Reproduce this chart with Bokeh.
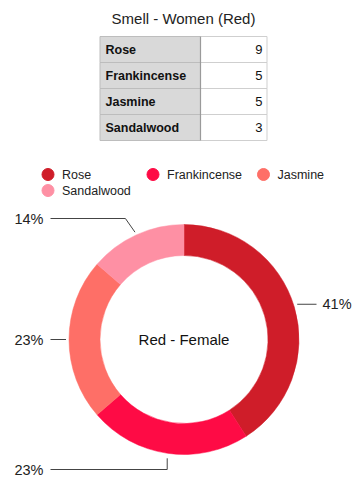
import math
from bokeh.plotting import figure
from bokeh.models import Range1d, ColumnDataSource
from bokeh.core.properties import value
from bokeh.embed import file_html
from bokeh.resources import INLINE

# ---- data ----
title = "Smell - Women (Red)"
center_label = "Red - Female"
categories = ["Rose", "Frankincense", "Jasmine", "Sandalwood"]
counts = [9, 5, 5, 3]
colors = ["#cf1d29", "#fe0b45", "#fe6f67", "#fe90a4"]

FONT = value("Liberation Sans")

W, H = 357, 479
p = figure(width=W, height=H, output_backend="svg", toolbar_location=None,
           x_range=Range1d(0, W), y_range=Range1d(-H, 0),
           min_border=0)
p.axis.visible = False
p.grid.visible = False
p.outline_line_color = None
p.background_fill_color = "white"
p.border_fill_color = "white"

def Y(y):
    return -y

# ---- title ----
p.text(x=[183], y=[Y(18)], text=[title], text_font=FONT, text_font_size="15px",
       text_align="center", text_baseline="middle", text_color="#222222")

# ---- table ----
tx0, tx1, tx2 = 99.5, 200, 266.5
ty0, rh = 36, 26
n = len(categories)
tops = [Y(ty0 + i * rh) for i in range(n)]
bots = [Y(ty0 + (i + 1) * rh) for i in range(n)]
p.quad(left=[tx0] * n, right=[tx1] * n, top=tops, bottom=bots,
       fill_color="#d9d9d9", line_color="#bdbdbd", line_width=1)
p.quad(left=[tx1] * n, right=[tx2] * n, top=tops, bottom=bots,
       fill_color="white", line_color="#cfcfcf", line_width=1)
p.segment(x0=[tx1], y0=[Y(ty0)], x1=[tx1], y1=[Y(ty0 + n * rh)],
          line_color="#9a9a9a", line_width=1.2)
mids = [Y(ty0 + (i + 0.5) * rh) for i in range(n)]
p.text(x=[105] * n, y=mids, text=categories, text_font=FONT, text_font_size="12.5px",
       text_font_style="bold", text_align="left", text_baseline="middle", text_color="#111111")
p.text(x=[262] * n, y=mids, text=[str(c) for c in counts], text_font=FONT,
       text_font_size="13px", text_align="right", text_baseline="middle", text_color="#111111")

# ---- legend ----
leg_x = [47.5, 152.5, 263, 47.5]
leg_y = [174, 174, 174, 190]
p.scatter(x=leg_x, y=[Y(v) for v in leg_y], size=12, color=colors, marker="circle")
p.text(x=[v + 14 for v in leg_x], y=[Y(v) for v in leg_y], text=categories, text_font=FONT,
       text_font_size="12.5px", text_align="left", text_baseline="middle", text_color="#222222")

# ---- donut ----
cx, cy, R, r = 183.5, 339, 115, 84
total = sum(counts)
starts, ends, mid_fracs = [], [], []
acc = 0
for c in counts:
    f0 = acc / total
    acc += c
    f1 = acc / total
    starts.append(math.pi / 2 - 2 * math.pi * f0)
    ends.append(math.pi / 2 - 2 * math.pi * f1)
    mid_fracs.append((f0 + f1) / 2)
src = ColumnDataSource(dict(start=starts, end=ends, color=colors))
p.annular_wedge(x=cx, y=Y(cy), inner_radius=r, outer_radius=R, start_angle="start",
                end_angle="end", direction="clock", fill_color="color", line_color="color",
                line_width=0.5, source=src)

p.text(x=[cx], y=[Y(cy)], text=[center_label], text_font=FONT, text_font_size="15px",
       text_align="center", text_baseline="middle", text_color="#111111")

# ---- leader lines and percentage labels ----
pcts = [f"{round(100 * c / total)}%" for c in counts]
lx, ly, ltxt, lal = [], [], [], []
xs_lines, ys_lines = [], []
for i, f in enumerate(mid_fracs):
    a = 2 * math.pi * f
    sx = cx + (R + 3) * math.sin(a)
    sy = cy - (R + 3) * math.cos(a)
    if math.sin(a) > 0.5:      # right side
        sy -= 2
        pts = [(sx, sy), (316, sy)]
        lx.append(322); ly.append(sy); lal.append("left")
    elif math.cos(a) < -0.9:   # bottom
        pts = [(sx, sy + 2), (sx, 469), (50, 469)]
        lx.append(43); ly.append(469); lal.append("right")
    elif math.cos(a) > 0.5:    # top
        ey = 218
        pts = [(sx, sy), (sx - (sy - ey) * 0.7, ey), (50, ey)]
        lx.append(43); ly.append(ey); lal.append("right")
    else:                      # left
        pts = [(sx, sy), (50, sy)]
        lx.append(43); ly.append(sy); lal.append("right")
    ltxt.append(pcts[i])
    xs_lines.append([q[0] for q in pts])
    ys_lines.append([Y(q[1]) for q in pts])

p.multi_line(xs=xs_lines, ys=ys_lines, line_color="#444444", line_width=1)
for x_, y_, t_, a_ in zip(lx, ly, ltxt, lal):
    p.text(x=[x_], y=[Y(y_)], text=[t_], text_font=FONT, text_font_size="14.5px",
           text_align=a_, text_baseline="middle", text_color="#222222")

open("out.html", "w").write(file_html(p, INLINE))
